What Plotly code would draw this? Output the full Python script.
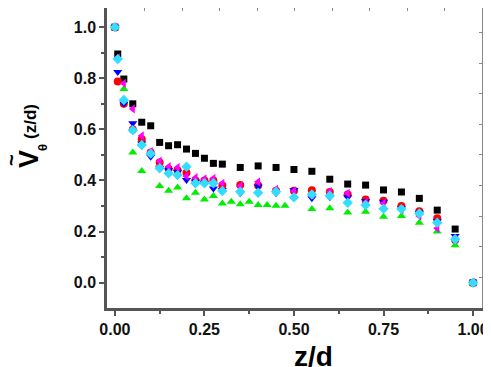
import plotly.graph_objects as go

# z/d positions shared by most series
z_common = [0, 0.008, 0.025, 0.05, 0.075, 0.1, 0.125, 0.15, 0.175, 0.2, 0.225, 0.25,
            0.275, 0.3, 0.35, 0.4, 0.45, 0.5, 0.55, 0.6, 0.65, 0.7, 0.75, 0.8,
            0.85, 0.9, 0.95, 1.0]

v_black = [1.0, 0.895, 0.797, 0.70, 0.628, 0.614, 0.549, 0.536, 0.54, 0.523, 0.506, 0.487,
           0.467, 0.464, 0.451, 0.457, 0.451, 0.443, 0.436, 0.405, 0.386, 0.382, 0.363,
           0.355, 0.33, 0.284, 0.21, 0.0]
v_red = [1.0, 0.787, 0.70, 0.60, 0.561, 0.51, 0.47, 0.445, 0.44, 0.43, 0.40, 0.40,
         0.40, 0.38, 0.382, 0.38, 0.36, 0.36, 0.362, 0.355, 0.345, 0.326, 0.321,
         0.30, 0.28, 0.252, 0.167, 0.0]
v_blue = [1.0, 0.825, 0.70, 0.624, 0.545, 0.493, 0.45, 0.441, 0.434, 0.402, 0.395, 0.39,
          0.369, 0.363, 0.35, 0.376, 0.35, 0.363, 0.33, 0.334, 0.334, 0.32, 0.317,
          0.291, 0.274, 0.24, 0.183, 0.0]
v_magenta = [1.0, 0.88, 0.78, 0.68, 0.575, 0.513, 0.476, 0.454, 0.451, 0.417, 0.411, 0.406,
             0.408, 0.389, 0.378, 0.395, 0.365, 0.359, 0.343, 0.356, 0.35, 0.314, 0.31,
             0.286, 0.261, 0.213, 0.17, 0.0]
v_cyan = [1.0, 0.875, 0.715, 0.597, 0.539, 0.505, 0.448, 0.428, 0.421, 0.454, 0.389, 0.389,
          0.389, 0.359, 0.356, 0.352, 0.356, 0.334, 0.345, 0.34, 0.313, 0.304, 0.289,
          0.288, 0.271, 0.235, 0.17, 0.0]

# green series has its own sampling
z_green = [0, 0.025, 0.05, 0.075, 0.125, 0.15, 0.175, 0.2, 0.225, 0.25, 0.275, 0.3, 0.325,
           0.35, 0.375, 0.4, 0.425, 0.45, 0.475, 0.55, 0.6, 0.65, 0.7, 0.75, 0.8, 0.85,
           0.9, 0.95, 1.0]
v_green = [1.0, 0.758, 0.51, 0.437, 0.378, 0.36, 0.373, 0.33, 0.352, 0.326, 0.339, 0.31,
           0.317, 0.307, 0.317, 0.304, 0.304, 0.301, 0.301, 0.288, 0.291, 0.275, 0.278,
           0.258, 0.261, 0.235, 0.2, 0.147, 0.0]

x_ticks = [0, 0.25, 0.5, 0.75, 1.0]
x_ticktext = ["0.00", "0.25", "0.50", "0.75", "1.00"]
y_ticks = [0, 0.2, 0.4, 0.6, 0.8, 1.0]
y_ticktext = ["0.0", "0.2", "0.4", "0.6", "0.8", "1.0"]

series = [
    (z_common, v_black, "square", "#000000", 7),
    (z_common, v_red, "circle", "#ff0000", 8),
    (z_green, v_green, "triangle-up", "#00ee00", 8),
    (z_common, v_blue, "triangle-down", "#0000ff", 8),
    (z_common, v_magenta, "triangle-left", "#ff00ff", 8),
    (z_common, v_cyan, "diamond", "#33ddff", 8),
]

# page body has an 8px margin, so the plot area is laid out in window pixels:
# left 107, right 482, top 8, bottom 308
X0, X1, Y0, Y1 = 107, 482, 8, 308


def px(x, y):
    return (x - X0) / (X1 - X0), (Y1 - y) / (Y1 - Y0)


fig = go.Figure()
for xs, ys, sym, col, sz in series:
    fig.add_trace(go.Scatter(x=xs, y=ys, mode="markers", showlegend=False,
                             marker=dict(symbol=sym, color=col, size=sz,
                                         line=dict(width=0))))

# empty trace so the top/right frame axes get drawn
fig.add_trace(go.Scatter(x=[], y=[], xaxis="x2", yaxis="y2", showlegend=False))

font_fam = "Liberation Sans, Arial"
tick_font = dict(family=font_fam, size=16, color="#111111")
axis_col = "#555555"


def ann(text, x, y, size, angle=0):
    ax, ay = px(x, y)
    return dict(text=text, xref="paper", yref="paper", x=ax, y=ay,
                xanchor="center", yanchor="middle", textangle=angle,
                showarrow=False, font=dict(family=font_fam, size=size, color="black"))


fig.update_layout(
    width=483, height=359,
    margin=dict(l=X0 - 8, r=483 - (X1 - 8), t=0, b=359 - (Y1 - 8)),
    plot_bgcolor="white", paper_bgcolor="white",
    xaxis=dict(range=[-0.022, 1.025], tickvals=x_ticks,
               ticktext=["<b>%s</b>" % t for t in x_ticktext],
               ticks="outside", ticklen=5, tickwidth=1.5, tickcolor=axis_col,
               showline=True, linecolor=axis_col, linewidth=2.5,
               showgrid=False, zeroline=False, tickfont=tick_font,
               ticklabeloverflow="allow",
               minor=dict(tickvals=[0.125, 0.375, 0.625, 0.875], ticks="outside",
                          ticklen=3, tickcolor=axis_col, showgrid=False)),
    yaxis=dict(range=[-0.099, 1.075], tickvals=y_ticks,
               ticktext=["<b>%s</b>" % t for t in y_ticktext],
               ticks="outside", ticklen=5, tickwidth=1.5, tickcolor=axis_col,
               showline=True, linecolor=axis_col, linewidth=2.5,
               showgrid=False, zeroline=False, tickfont=tick_font,
               minor=dict(tickvals=[0.1, 0.3, 0.5, 0.7, 0.9], ticks="outside",
                          ticklen=3, tickcolor=axis_col, showgrid=False)),
    xaxis2=dict(overlaying="x", side="top", range=[0, 10], dtick=1,
                ticks="inside", ticklen=3, tickcolor="#888888",
                showline=True, linecolor="#888888", linewidth=1.5,
                showticklabels=False, showgrid=False, zeroline=False),
    yaxis2=dict(overlaying="y", side="right", range=[0, 9.8], dtick=1,
                ticks="inside", ticklen=3, tickcolor="#888888",
                showline=True, linecolor="#888888", linewidth=2.5,
                showticklabels=False, showgrid=False, zeroline=False),
    annotations=[
        ann("<b>z/d</b>", 313, 356, 28),
        ann("<b>V</b>", 29, 159, 27, -90),
        ann("<b>θ</b>", 42, 148, 13, -90),
        ann("<b>(z/d)</b>", 30, 122, 17, -90),
        ann("<b>~</b>", 11, 160, 20, -90),
    ],
)

fig.write_html("out.html")
